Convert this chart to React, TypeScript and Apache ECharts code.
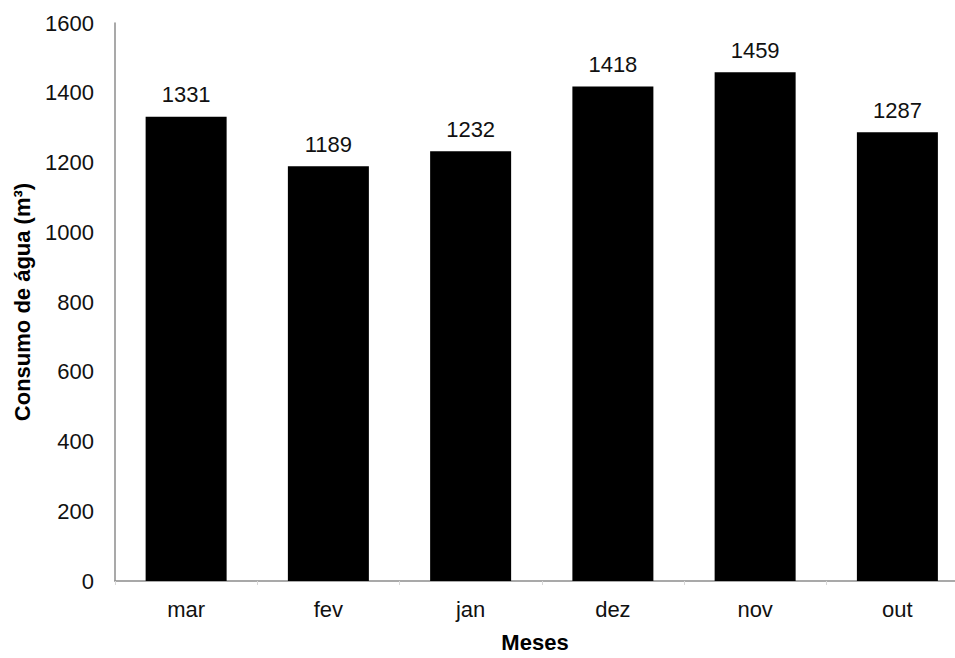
import React, { useEffect, useRef } from "react";
import * as echarts from "echarts";

const categories = ["mar", "fev", "jan", "dez", "nov", "out"];
const values = [1331, 1189, 1232, 1418, 1459, 1287];
const yTicks = { min: 0, max: 1600, interval: 200 };
// the reference plot is cropped on the right: only ~5.9 of the 6 category slots are visible
const visibleSlots = 5.905;

const FONT = "Liberation Sans";

export default function App() {
  const ref = useRef<HTMLDivElement>(null);
  useEffect(() => {
    const chart = echarts.init(ref.current!, null, { renderer: "svg" });
    const centers = categories.map((_, i) => i + 0.5);
    const bounds = categories.map((_, i) => i);
    chart.setOption({
      animation: false,
      backgroundColor: "#ffffff",
      grid: { left: 115, right: 0, top: 23, bottom: 69 },
      xAxis: {
        type: "value",
        min: 0,
        max: visibleSlots,
        name: "Meses",
        nameLocation: "middle",
        nameGap: 50,
        nameTextStyle: { fontFamily: FONT, fontSize: 22, fontWeight: "bold", color: "#000" },
        axisLine: { show: true, lineStyle: { color: "#8c8c8c", width: 1.5 } },
        axisTick: { show: true, length: 4, customValues: bounds, lineStyle: { color: "#d8d8d8" } },
        splitLine: { show: false },
        axisLabel: {
          fontFamily: FONT,
          fontSize: 22,
          color: "#111",
          margin: 17,
          customValues: centers,
          formatter: (v: number) => categories[Math.round(v - 0.5)] ?? "",
        },
      },
      yAxis: {
        type: "value",
        min: yTicks.min,
        max: yTicks.max,
        interval: yTicks.interval,
        name: "Consumo de água (m³)",
        nameLocation: "middle",
        nameGap: 82,
        nameTextStyle: { fontFamily: FONT, fontSize: 22, fontWeight: "bold", color: "#000" },
        axisLine: { show: true, lineStyle: { color: "#8c8c8c", width: 1.5 } },
        axisTick: { show: false },
        splitLine: { show: false },
        axisLabel: {
          fontFamily: FONT,
          fontSize: 22,
          color: "#111",
          margin: 21,
          formatter: (v: number) => String(v),
        },
      },
      series: [
        {
          type: "bar",
          data: values.map((v, i) => [centers[i], v]),
          barWidth: 81,
          itemStyle: { color: "#000000" },
          label: {
            show: true,
            position: "top",
            distance: 11,
            fontFamily: FONT,
            fontSize: 22,
            color: "#111",
            formatter: (p: any) => String(p.value[1]),
          },
        },
      ],
    });
    return () => chart.dispose();
  }, []);
  return <div ref={ref} style={{ width: 955, height: 658, position: "absolute", left: 0, top: 0 }} />;
}
